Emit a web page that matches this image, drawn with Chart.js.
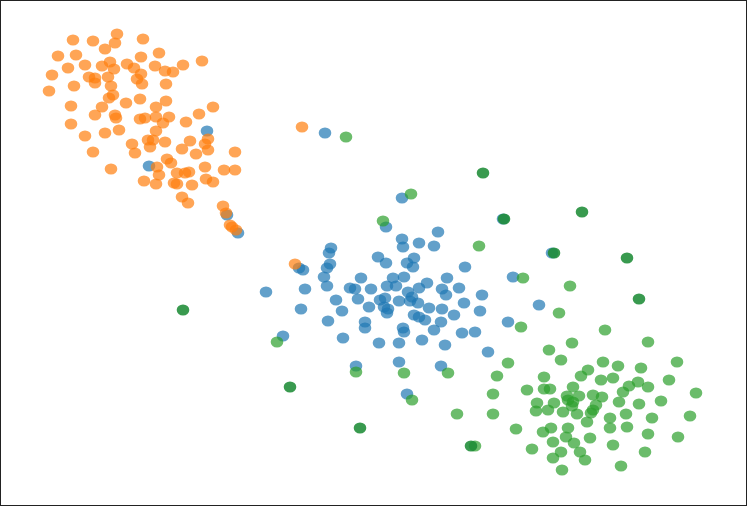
<!DOCTYPE html>
<html>
<head>
<meta charset="utf-8">
<script src="https://cdn.jsdelivr.net/npm/chart.js@4/dist/chart.umd.min.js"></script>
<style>
  html, body { margin: 0; padding: 0; background: #fff; }
  #wrap { width: 747px; height: 506px; position: relative; }
</style>
</head>
<body>
<div id="wrap"><canvas id="chart"></canvas></div>
<script>
// embedding clusters, [x, y] per point
const orangePts = [
  [11.7,3.4],[7.3,4.0],[9.3,4.1],[14.3,3.9],[11.5,4.3],[10.5,4.9],[15.9,5.3],[5.8,5.6],[7.6,5.5],[14.1,5.7],
  [6.8,6.8],[8.5,6.5],[10.2,6.6],[11.0,6.2],[11.4,6.9],[12.7,6.4],[13.4,6.8],[15.5,6.6],[16.5,7.1],[17.3,7.2],
  [18.3,6.5],[20.2,6.1],[5.2,7.5],[8.9,7.7],[9.5,7.8],[10.8,7.7],[14.1,7.4],[13.7,7.9],[9.5,8.3],[14.2,8.4],
  [16.6,8.4],[4.9,9.1],[7.4,8.6],[11.1,8.6],[11.3,9.5],[10.9,9.8],[14.0,9.9],[16.6,10.1],[12.6,10.3],[10.2,10.7],
  [7.1,10.6],[9.5,11.5],[11.5,11.5],[11.6,11.8],[14.0,11.9],[14.5,11.8],[15.6,10.7],[15.6,11.7],[16.9,11.7],[16.3,12.3],
  [18.6,12.2],[19.9,11.4],[21.3,10.7],[7.1,12.4],[8.5,13.6],[10.5,13.3],[11.9,13.0],[15.6,13.1],[13.2,14.4],[14.8,14.0],
  [15.3,14.0],[15.0,14.7],[16.5,14.2],[18.2,14.9],[19.0,14.1],[19.6,15.4],[20.5,14.4],[20.8,13.9],[20.8,15.0],[23.5,15.2],
  [9.3,15.2],[13.5,15.3],[11.1,16.9],[16.7,15.9],[17.1,16.3],[15.7,16.7],[15.9,17.5],[17.7,17.3],[18.5,17.3],[18.9,17.2],
  [20.5,16.7],[22.4,17.0],[23.5,17.0],[14.4,18.1],[15.6,18.4],[17.4,18.3],[17.7,18.4],[19.2,18.5],[20.6,17.9],[21.3,18.2],
  [18.2,19.7],[18.8,20.3],[22.3,20.6],[22.6,21.3],[23.0,22.5],[23.2,22.7],[23.6,23.0],[30.2,12.7],[29.5,26.4]
];
const bluePts = [
  [20.7,13.1],[14.9,16.6],[22.7,21.5],[23.8,23.3],[32.5,13.3],[40.2,19.8],[38.6,22.7],[43.8,23.2],[40.2,23.9],[41.9,24.3],
  [40.3,24.7],[43.4,24.6],[33.1,24.8],[32.9,25.3],[37.8,25.7],[38.6,26.3],[40.7,26.3],[41.4,25.8],[41.3,26.7],[33.0,26.4],
  [32.7,26.8],[46.5,26.7],[30.3,27.0],[29.9,26.8],[32.4,27.7],[32.7,28.6],[36.1,27.8],[39.3,27.8],[40.4,27.7],[39.6,28.6],
  [38.7,28.6],[44.7,27.8],[26.6,29.2],[30.5,28.9],[35.0,28.8],[35.5,28.9],[37.1,28.9],[40.8,29.2],[41.2,29.7],[41.9,28.8],
  [42.7,28.3],[44.2,28.9],[44.6,29.5],[45.9,28.8],[48.2,29.5],[33.6,30.0],[35.8,29.9],[38.0,30.0],[38.5,29.8],[39.9,30.1],
  [41.0,30.1],[41.8,30.3],[30.1,30.9],[34.2,31.1],[36.9,30.7],[38.4,30.7],[38.7,31.3],[38.8,30.9],[42.9,30.8],[44.2,30.9],
  [46.4,30.3],[48.0,31.1],[41.4,31.5],[41.9,31.7],[42.5,32.0],[45.4,31.5],[32.8,32.1],[36.5,32.2],[36.5,32.8],[40.3,32.8],
  [40.4,33.2],[44.1,32.2],[43.4,33.0],[46.2,33.3],[47.5,33.2],[28.3,33.6],[34.3,33.8],[37.9,34.3],[39.9,34.3],[42.2,34.0],
  [44.5,34.5],[48.8,35.2],[35.6,36.6],[39.9,36.2],[44.1,36.6],[40.7,39.4],[50.3,21.9],[55.2,25.3],[51.3,27.7],[53.9,30.5],
  [50.8,32.2]
];
const greenPts = [
  [34.6,13.7],[41.1,19.4],[38.3,22.1],[47.9,24.6],[52.3,27.8],[57.0,28.6],[55.9,31.3],[52.1,32.7],[60.5,33.0],[27.7,34.2],
  [35.6,37.2],[40.4,37.3],[44.8,37.3],[49.7,37.6],[41.2,40.0],[45.7,41.4],[49.3,39.4],[49.3,41.4],[47.5,44.6],
  [57.2,34.3],[64.8,34.2],[54.9,35.0],[56.1,36.0],[50.8,36.3],[60.3,36.2],[61.8,36.6],[58.8,37.0],[64.1,36.8],[67.7,36.2],
  [54.4,37.7],[58.1,37.6],[60.1,38.0],[61.3,37.8],[63.8,38.2],[62.9,38.6],[64.8,38.7],[66.9,38.0],[52.7,39.0],[54.4,38.9],
  [55.0,38.9],[57.3,38.7],[62.3,39.2],[69.6,39.3],[56.7,39.6],[57.9,39.6],[59.3,39.5],[60.2,39.7],[56.8,40.0],[57.3,40.2],
  [53.7,40.3],[55.4,40.3],[61.9,40.2],[63.9,40.4],[66.1,40.1],[53.6,41.1],[54.8,41.0],[56.3,41.2],[57.7,41.4],[57.2,40.6],
  [59.6,40.5],[59.3,41.0],[59.1,41.3],[62.6,41.4],[58.7,42.2],[61.0,41.8],[65.2,41.8],[69.0,41.6],[61.0,42.8],[62.7,42.7],
  [51.6,42.9],[54.3,43.2],[55.1,42.8],[56.8,42.8],[56.6,43.7],[59.0,43.8],[64.8,43.4],[67.8,43.7],[55.3,44.2],[57.4,44.3],
  [61.3,44.5],[53.2,44.9],[56.1,45.2],[58.0,45.2],[64.5,45.2],[55.3,45.8],[58.5,46.0],[62.1,46.6],[56.2,47.0]
];
const darkGreenPts = [
  [48.3,17.3],[50.4,21.9],[58.2,21.2],[55.4,25.3],[62.7,25.8],[63.9,29.9],[18.3,31.0],[29.0,38.7],[36.0,42.8],[47.1,44.6]
];

function dot(color) {
  const c = document.createElement('canvas');
  c.width = 14; c.height = 12;
  const g = c.getContext('2d');
  g.fillStyle = color;
  g.beginPath();
  g.ellipse(7, 6, 6.3, 5.6, 0, 0, Math.PI * 2);
  g.fill();
  return c;
}

function toXY(pts) {
  return pts.map(p => ({ x: p[0], y: p[1] }));
}

const framePlugin = {
  id: 'frame',
  afterDraw(chart) {
    const ctx = chart.ctx;
    ctx.save();
    ctx.strokeStyle = '#222';
    ctx.lineWidth = 1;
    ctx.strokeRect(0.5, 0.5, chart.width - 1, chart.height - 1);
    ctx.restore();
  }
};

new Chart(document.getElementById('chart'), {
  type: 'scatter',
  data: {
    datasets: [
      { label: 'd', data: toXY(darkGreenPts), pointStyle: dot('rgba(30,140,55,0.88)') },
      { label: 'c', data: toXY(greenPts), pointStyle: dot('rgba(44,160,44,0.7)') },
      { label: 'b', data: toXY(orangePts), pointStyle: dot('rgba(255,127,14,0.7)') },
      { label: 'a', data: toXY(bluePts), pointStyle: dot('rgba(31,119,180,0.7)') }
    ]
  },
  options: {
    responsive: true,
    maintainAspectRatio: false,
    animation: false,
    layout: { padding: 0, autoPadding: false },
    scales: {
      x: { display: false, min: 0, max: 74.7 },
      y: { display: false, min: 0, max: 50.6, reverse: true }
    },
    plugins: {
      legend: { display: false },
      tooltip: { enabled: false }
    }
  },
  plugins: [framePlugin]
});
</script>
</body>
</html>
